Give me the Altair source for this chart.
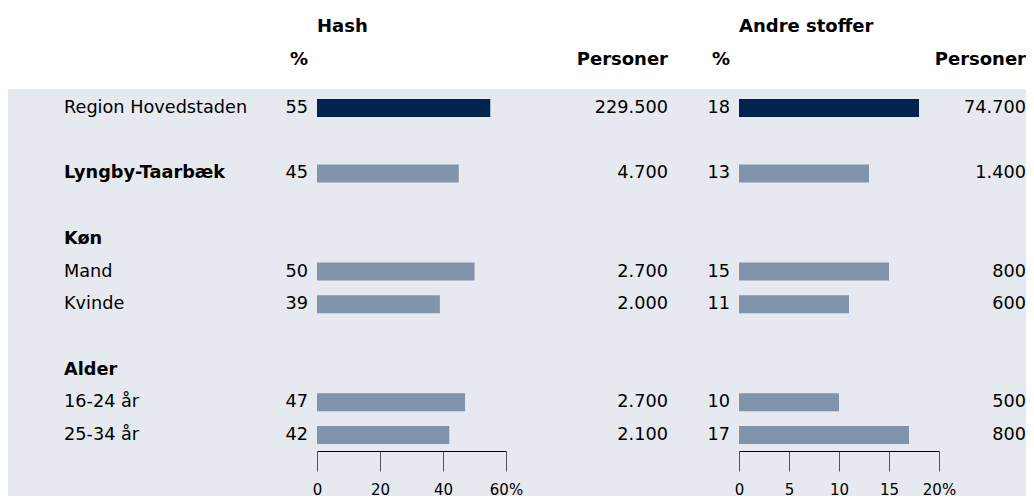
import altair as alt
import pandas as pd

# ---- data ----
labels = ["Region Hovedstaden", "Lyngby-Taarbæk", "Køn", "Mand", "Kvinde",
          "Alder", "16-24 år", "25-34 år"]
row_order = [0, 2, 4, 5, 6, 8, 9, 10]
bold = [False, True, True, False, False, True, False, False]
highlight = [True, False, False, False, False, False, False, False]
hash_pct = [55, 45, None, 50, 39, None, 47, 42]
hash_persons = [229500, 4700, None, 2700, 2000, None, 2700, 2100]
andre_pct = [18, 13, None, 15, 11, None, 10, 17]
andre_persons = [74700, 1400, None, 800, 600, None, 500, 800]
hash_ticks = [0, 20, 40, 60]
andre_ticks = [0, 5, 10, 15, 20]


def dk(n):
    return None if n is None else f"{n:,}".replace(",", ".")


df = pd.DataFrame({
    "label": labels,
    "row": row_order,
    "bold": bold,
    "hl": highlight,
    "hp": hash_pct,
    "hn": [dk(v) for v in hash_persons],
    "ap": andre_pct,
    "an": [dk(v) for v in andre_persons],
})

FONT = "DejaVu Sans"
FS = 17.7
NAVY = "#00234f"
LIGHT = "#8293ac"
BG = "#e6e9ef"
PLOT_H = 407

yenc = alt.Y("row:Q",
             scale=alt.Scale(domain=[0, 10], range=[19, 346], padding=0,
                             nice=False, zero=False),
             axis=None)


def panel(pct, num, header, domain, ticks, rng, width, num_x, with_labels):
    maxv = domain[1]
    x = alt.X(f"{pct}:Q",
              scale=alt.Scale(domain=domain, range=rng, padding=0, nice=False),
              axis=alt.Axis(values=ticks, title=None, grid=False,
                            offset=-(PLOT_H - 362),
                            tickSize=20, labelPadding=11, labelFontSize=15,
                            labelFont=FONT, labelColor="black",
                            domainColor="black", tickColor="#555",
                            labelFlush=False,
                            labelExpr=f"datum.value == {maxv} ? '{maxv}%' : datum.label"))
    base = alt.Chart(df)
    vals = base.transform_filter(f"isValid(datum.{pct})")
    bars = vals.mark_bar(height=18).encode(
        x=x, x2=alt.datum(0), y=yenc,
        color=alt.condition("datum.hl", alt.value(NAVY), alt.value(LIGHT)),
    )
    pct_txt = vals.mark_text(align="right", baseline="middle", dx=-9,
                             font=FONT, fontSize=FS, color="black").encode(
        x=alt.datum(0), y=yenc, text=f"{pct}:Q")
    num_txt = vals.mark_text(align="right", baseline="middle",
                             font=FONT, fontSize=FS, color="black").encode(
        x=alt.value(num_x), y=yenc, text=f"{num}:N")
    hdr = pd.DataFrame({"t": [header]})
    h1 = alt.Chart(hdr).mark_text(align="left", baseline="middle", font=FONT,
                                  fontSize=18, fontWeight="bold", color="black").encode(
        x=alt.datum(0), y=alt.value(-62), text="t:N")
    h2 = alt.Chart(hdr).mark_text(align="right", baseline="middle", font=FONT,
                                  fontSize=18, fontWeight="bold", color="black",
                                  dx=-9, text="%").encode(
        x=alt.datum(0), y=alt.value(-29))
    h3 = alt.Chart(hdr).mark_text(align="right", baseline="middle", font=FONT,
                                  fontSize=18, fontWeight="bold", color="black",
                                  text="Personer").encode(
        x=alt.value(num_x), y=alt.value(-29))
    layers = [bars, pct_txt, num_txt, h1, h2, h3]
    if with_labels:
        lab_n = base.transform_filter("!datum.bold").mark_text(
            align="left", baseline="middle", font=FONT, fontSize=FS, color="black").encode(
            x=alt.value(56), y=yenc, text="label:N")
        lab_b = base.transform_filter("datum.bold").mark_text(
            align="left", baseline="middle", font=FONT, fontSize=FS,
            fontWeight="bold", color="black").encode(
            x=alt.value(56), y=yenc, text="label:N")
        layers += [lab_n, lab_b]
    return alt.layer(*layers).properties(width=width, height=PLOT_H)


p1 = panel("hp", "hn", "Hash", [0, 60], hash_ticks, [309, 498], 680, 660, True)
p2 = panel("ap", "an", "Andre stoffer", [0, 20], andre_ticks, [51, 251], 338, 338, False)

chart = alt.hconcat(p1, p2, spacing=0).properties(
    padding={"top": 10, "left": 0, "right": 0, "bottom": 0},
    background="white",
).configure_view(fill=BG, strokeWidth=0)

chart.save("out.html", embed_options={"renderer": "svg", "actions": False})
